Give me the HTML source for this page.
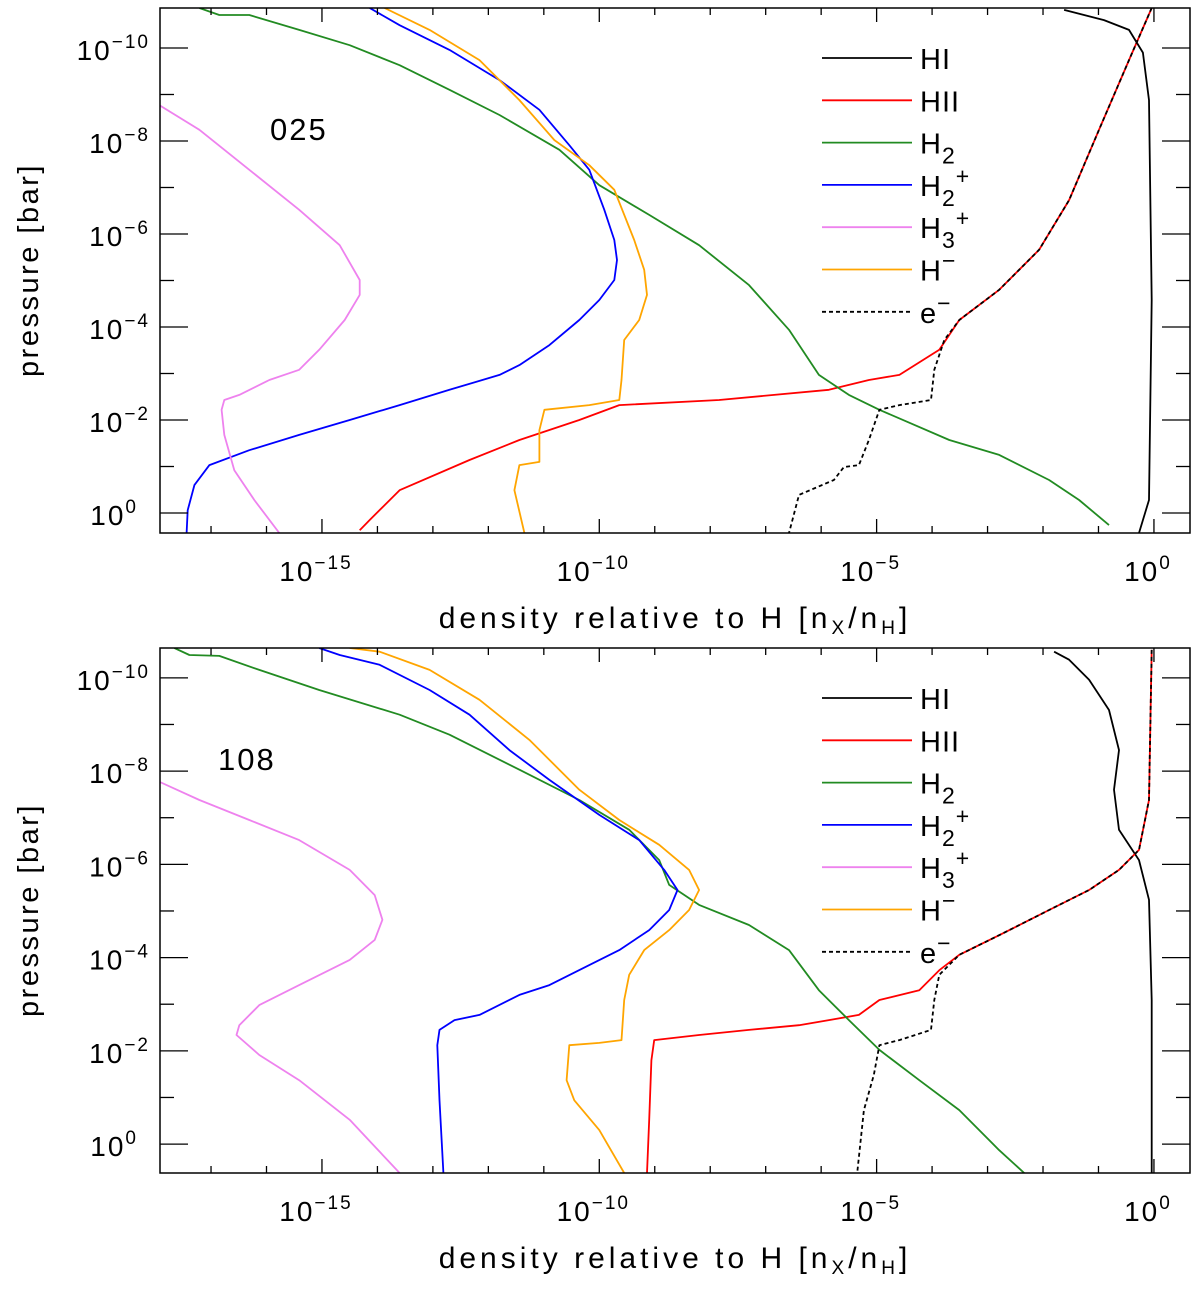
<!DOCTYPE html>
<html><head><meta charset="utf-8"><style>
html,body{margin:0;padding:0;background:#fff}
svg{display:block;font-family:"Liberation Sans","DejaVu Sans",sans-serif}
</style></head><body>
<svg id="chart" width="1200" height="1289" viewBox="0 0 1200 1289" xmlns="http://www.w3.org/2000/svg"></svg>
<script>
// Data as [log10(pressure), log10(density)] pairs
const top_HI=[[-10.82,-1.62],[-10.6,-0.9],[-10.39,-0.45],[-9.9,-0.2],[-8.88,-0.09],[-4.58,-0.04],[-0.28,-0.09],[0.43,-0.27]];
const top_HII=[[-10.86,-0.04],[-9.74,-0.45],[-8.24,-0.99],[-6.73,-1.53],[-5.66,-2.07],[-4.80,-2.79],[-4.15,-3.51],[-3.51,-3.87],[-2.97,-4.59],[-2.86,-5.14],[-2.65,-5.86],[-2.43,-7.84],[-2.32,-9.64],[-2.0,-10.36],[-1.57,-11.44],[-1.14,-12.34],[-0.49,-13.60],[0.15,-14.14],[0.37,-14.32]];
const top_e=[[-10.86,-0.04],[-9.74,-0.45],[-8.24,-0.99],[-6.73,-1.53],[-5.66,-2.07],[-4.80,-2.79],[-4.15,-3.51],[-3.72,-3.78],[-3.08,-3.96],[-2.43,-4.02],[-2.32,-4.59],[-2.22,-4.95],[-1.57,-5.14],[-1.03,-5.32],[-0.99,-5.59],[-0.71,-5.77],[-0.39,-6.40],[0.43,-6.58]];
const top_H2=[[-10.86,-17.21],[-10.71,-16.85],[-10.71,-16.31],[-10.39,-15.41],[-10.06,-14.50],[-9.63,-13.60],[-9.10,-12.70],[-8.56,-11.80],[-7.81,-10.72],[-7.05,-10],[-6.41,-9.10],[-5.76,-8.20],[-4.90,-7.30],[-3.94,-6.58],[-2.97,-6.04],[-2.54,-5.50],[-2.22,-4.95],[-1.57,-3.69],[-1.25,-2.79],[-0.71,-1.89],[-0.28,-1.35],[0.26,-0.81]];
const top_H2p=[[-10.86,-14.14],[-10.49,-13.60],[-9.96,-12.70],[-9.31,-11.80],[-8.67,-11.08],[-7.91,-10.54],[-7.38,-10.18],[-6.52,-9.91],[-5.87,-9.73],[-5.44,-9.68],[-5.01,-9.73],[-4.58,-10],[-4.15,-10.36],[-3.61,-10.90],[-3.18,-11.44],[-2.97,-11.80],[-2.65,-12.70],[-2.32,-13.60],[-2.0,-14.50],[-1.68,-15.41],[-1.35,-16.31],[-1.03,-17.03],[-0.60,-17.30],[-0.06,-17.42],[0.43,-17.44]];
const top_Hm=[[-10.86,-13.87],[-10.39,-13.06],[-9.74,-12.16],[-8.88,-11.44],[-8.02,-10.81],[-7.48,-10.18],[-6.95,-9.73],[-5.87,-9.37],[-5.23,-9.19],[-4.69,-9.14],[-4.15,-9.28],[-3.72,-9.55],[-2.86,-9.60],[-2.43,-9.64],[-2.32,-10.18],[-2.22,-10.99],[-1.78,-11.08],[-1.10,-11.08],[-1.03,-11.44],[-0.49,-11.53],[0.43,-11.35]];
const top_H3p=[[-8.77,-17.93],[-8.24,-17.21],[-7.38,-16.31],[-6.52,-15.41],[-5.76,-14.68],[-5.01,-14.32],[-4.69,-14.32],[-4.15,-14.59],[-3.51,-15.05],[-3.08,-15.41],[-2.86,-15.95],[-2.54,-16.49],[-2.43,-16.76],[-2.22,-16.81],[-1.68,-16.76],[-0.92,-16.58],[-0.28,-16.22],[0.43,-15.77]];

const bot_HI=[[-10.56,-1.80],[-10.39,-1.53],[-9.96,-1.17],[-9.31,-0.81],[-8.45,-0.63],[-7.60,-0.72],[-6.74,-0.63],[-6.09,-0.27],[-5.24,-0.09],[-3.09,-0.04],[0.62,-0.04]];
const bot_HII=[[-10.60,-0.04],[-7.38,-0.09],[-6.31,-0.27],[-5.88,-0.63],[-5.45,-1.17],[-5.02,-1.89],[-4.48,-2.79],[-4.06,-3.51],[-3.73,-3.87],[-3.30,-4.23],[-3.09,-4.95],[-2.77,-5.32],[-2.66,-5.86],[-2.55,-6.40],[-2.45,-7.30],[-2.34,-8.20],[-2.23,-9.01],[-1.80,-9.06],[-0.52,-9.10],[0.62,-9.14]];
const bot_e=[[-10.60,-0.04],[-7.38,-0.09],[-6.31,-0.27],[-5.88,-0.63],[-5.45,-1.17],[-5.02,-1.89],[-4.48,-2.79],[-4.06,-3.51],[-3.63,-3.87],[-3.09,-3.96],[-2.45,-4.02],[-2.23,-4.59],[-2.12,-4.95],[-1.48,-5.05],[-0.73,-5.23],[0.62,-5.35]];
const bot_H2=[[-10.64,-17.66],[-10.49,-17.39],[-10.47,-16.85],[-10.17,-16.13],[-9.74,-15.05],[-9.21,-13.60],[-8.78,-12.70],[-8.03,-11.44],[-7.38,-10.36],[-6.74,-9.46],[-6.09,-8.92],[-5.56,-8.74],[-5.13,-8.20],[-4.70,-7.30],[-4.16,-6.58],[-3.30,-6.04],[-2.66,-5.50],[-2.02,-4.95],[-1.37,-4.23],[-0.73,-3.51],[0.13,-2.79],[0.62,-2.34]];
const bot_H2p=[[-10.64,-15.05],[-10.49,-14.68],[-10.28,-13.96],[-9.74,-13.06],[-9.21,-12.34],[-8.45,-11.62],[-7.81,-10.90],[-7.06,-10],[-6.52,-9.28],[-5.88,-8.83],[-5.45,-8.59],[-5.02,-8.74],[-4.59,-9.10],[-4.16,-9.64],[-3.84,-10.18],[-3.41,-10.90],[-3.20,-11.44],[-2.77,-12.16],[-2.66,-12.61],[-2.45,-12.88],[-2.12,-12.92],[-0.94,-12.88],[0.62,-12.81]];
const bot_Hm=[[-10.64,-14.50],[-10.56,-13.96],[-10.17,-13.06],[-9.53,-12.16],[-8.67,-11.26],[-7.60,-10.36],[-6.95,-9.64],[-6.42,-8.92],[-5.88,-8.38],[-5.45,-8.20],[-5.02,-8.38],[-4.59,-8.74],[-4.16,-9.19],[-3.63,-9.46],[-3.09,-9.55],[-2.23,-9.60],[-2.17,-10],[-2.12,-10.54],[-1.37,-10.59],[-0.94,-10.45],[-0.30,-10],[0.62,-9.55]];
const bot_H3p=[[-7.77,-17.93],[-7.38,-17.21],[-6.95,-16.31],[-6.52,-15.41],[-5.88,-14.50],[-5.34,-14.05],[-4.81,-13.91],[-4.38,-14.05],[-3.95,-14.50],[-3.41,-15.41],[-2.98,-16.13],[-2.55,-16.49],[-2.34,-16.54],[-1.91,-16.13],[-1.37,-15.41],[-0.52,-14.50],[0.62,-13.60]];

const xTickExps=[-15,-10,-5,0];
const yTickExps=[-10,-8,-6,-4,-2,0];
const legendLabels=["HI","HII","H2","H2+","H3+","H−","e−"];
const colors=["#000","#f00","#228b22","#00f","#ee82ee","#ffa500","#000"];

const NS="http://www.w3.org/2000/svg";
const svg=document.getElementById('chart');
function el(t,a,p){const e=document.createElementNS(NS,t);for(const k in a)e.setAttribute(k,a[k]);(p||svg).appendChild(e);return e;}

const X0=160,X1=1190,xMin=-17.92,xMax=0.65;
function xs(v){return X0+(v-xMin)/(xMax-xMin)*(X1-X0);}

function panel(idx,top,pMin,pMax,label,lx,ly,series){
  const bottom=top+525;
  const ys=v=>top+(v-pMin)/(pMax-pMin)*(bottom-top);
  const g=el('g',{});
  
  
  const cid='clip'+idx;
  const cp=el('clipPath',{id:cid},g);el('rect',{x:X0,y:top,width:X1-X0,height:bottom-top},cp);
  const cg=el('g',{'clip-path':'url(#'+cid+')'},g);
  const names=['HI','HII','H2','H2p','H3p','Hm','e'];
  series.forEach((s,i)=>{
    const d=s.map((p,j)=>(j?'L':'M')+xs(p[1]).toFixed(1)+','+ys(p[0]).toFixed(1)).join('');
    const path=el('path',{d:d,fill:'none',stroke:colors[i],'stroke-width':1.8,'stroke-linejoin':'round','stroke-dasharray':names[i]==='e'?'4,3':'none'},cg);
    
    
  });
  const fr=el('rect',{x:X0,y:top,width:X1-X0,height:bottom-top,fill:'none',stroke:'#000','stroke-width':1.5},g);
  
  
  for(let e=-17;e<=0;e++){
    const x=xs(e),len=(e%5===0)?14:7;
    el('line',{x1:x,y1:bottom,x2:x,y2:bottom-len,stroke:'#000','stroke-width':1.3},g);
    el('line',{x1:x,y1:top,x2:x,y2:top+len,stroke:'#000','stroke-width':1.3},g);
  }
  xTickExps.forEach(e=>{
    const t=el('text',{x:xs(e)-6,y:bottom+48,'font-size':28,'text-anchor':'middle','letter-spacing':'2'},g);
    
    
    t.innerHTML='10<tspan dy="-12" font-size="19">'+(e<0?'−'+(-e):e)+'</tspan>';
  });
  for(let e=-10;e<=0;e++){
    const y=ys(e),len=(e%2===0)?28:14;
    el('line',{x1:X0,y1:y,x2:X0+len,y2:y,stroke:'#000','stroke-width':1.3},g);
    el('line',{x1:X1,y1:y,x2:X1-len,y2:y,stroke:'#000','stroke-width':1.3},g);
  }
  yTickExps.forEach(e=>{
    const t=el('text',{x:e===0?138:150,y:ys(e)+12,'font-size':28,'text-anchor':'end','letter-spacing':'2'},g);
    
    
    t.innerHTML='10<tspan dy="-12" font-size="19">'+(e<0?'−'+(-e):e)+'</tspan>';
  });
  const yt=el('text',{x:0,y:0,'font-size':29,'text-anchor':'middle',transform:'translate(38,'+(top+262)+') rotate(-90)','letter-spacing':'2.5'},g);
  
  
  yt.textContent='pressure [bar]';
  const xt=el('text',{x:675,y:bottom+95,'font-size':30,'text-anchor':'middle','letter-spacing':'4'},g);
  
  
  xt.innerHTML='density relative to H [n<tspan font-size="19" dy="6">X</tspan><tspan dy="-6">/n</tspan><tspan font-size="19" dy="6">H</tspan><tspan dy="-6">]</tspan>';
  const pl=el('text',{x:lx,y:ly,'font-size':31,'letter-spacing':'2'},g);
  
  
  pl.textContent=label;
  legendLabels.forEach((lab,i)=>{
    const y=top+50+i*42.3;
    const lg=el('g',{},g);
    
    
    el('line',{x1:822,y1:y,x2:912,y2:y,stroke:colors[i],'stroke-width':1.8,'stroke-dasharray':names[i]==='e'?'4,3':'none'},lg);
    const t=el('text',{x:920,y:y+11,'font-size':29,'letter-spacing':'1'},lg);
    if(lab==='H2')t.innerHTML='H<tspan dy="10" font-size="23">2</tspan>';
    else if(lab==='H2+')t.innerHTML='H<tspan dy="10" font-size="23">2</tspan><tspan dy="-22" font-size="23">+</tspan>';
    else if(lab==='H3+')t.innerHTML='H<tspan dy="10" font-size="23">3</tspan><tspan dy="-22" font-size="23">+</tspan>';
    else if(lab==='H−')t.innerHTML='H<tspan dy="-12" font-size="23">−</tspan>';
    else if(lab==='e−')t.innerHTML='e<tspan dy="-12" font-size="23">−</tspan>';
    else t.textContent=lab;
  });
}
panel(0,8,-10.86,0.43,'025',270,140,[top_HI,top_HII,top_H2,top_H2p,top_H3p,top_Hm,top_e]);
panel(1,648,-10.64,0.62,'108',218,770,[bot_HI,bot_HII,bot_H2,bot_H2p,bot_H3p,bot_Hm,bot_e]);
</script>
</body></html>
